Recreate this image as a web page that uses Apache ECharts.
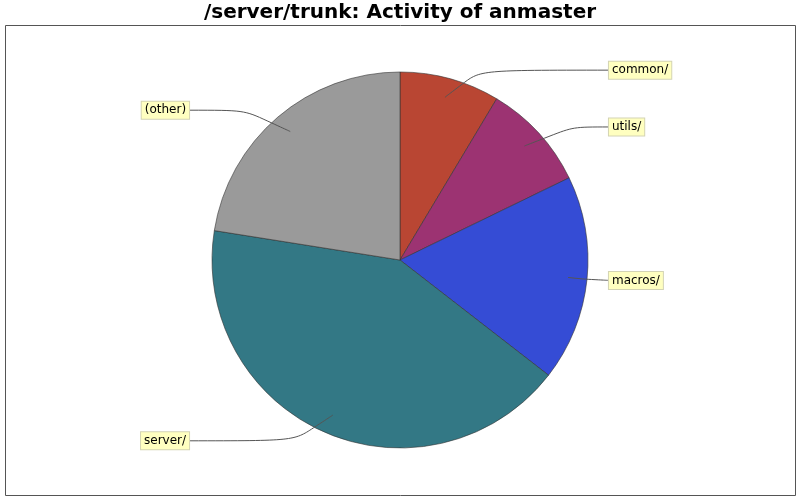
<!DOCTYPE html>
<html>
<head>
<meta charset="utf-8">
<script src="https://cdn.jsdelivr.net/npm/echarts@6/dist/echarts.min.js"></script>
<style>
  html, body { margin: 0; padding: 0; background: #fff; }
  #main { width: 800px; height: 500px; }
</style>
</head>
<body>
<div id="main"></div>
<script>
// slices, clockwise from 12 o'clock (share of activity, %)
var categories = ['common/', 'utils/', 'macros/', 'server/', '(other)'];
var values = [8.6, 9.2, 17.7, 42.0, 22.5];
var colors = ['#b94633', '#9c3372', '#354cd5', '#337885', '#9a9a9a'];

var chart = echarts.init(document.getElementById('main'));

var pieData = [], labelData = [];
for (var i = 0; i < categories.length; i++) {
    pieData.push({ name: categories[i], value: values[i], itemStyle: { color: colors[i] } });
    var item = { name: categories[i], value: values[i] };
    // the left-most label sits further out, like the jfreechart layout
    if (categories[i] == '(other)') item.labelLine = { length2: 83 };
    labelData.push(item);
}

var option = {
    animation: false,
    backgroundColor: '#fff',
    title: {
        text: '/server/trunk: Activity of anmaster',
        left: 'center',
        top: 3,
        padding: 0,
        textStyle: { fontFamily: 'DejaVu Sans', fontWeight: 'bold', fontSize: 20, color: '#000' }
    },
    graphic: [{
        type: 'rect',
        shape: { x: 5.5, y: 25.5, width: 790, height: 470 },
        style: { fill: null, stroke: '#555', lineWidth: 1 },
        silent: true
    }],
    series: [
        {
            // the pie itself
            type: 'pie',
            z: 2,
            center: [400, 260],
            radius: 188,
            startAngle: 90,
            clockwise: true,
            silent: true,
            label: { show: false },
            labelLine: { show: false },
            itemStyle: { borderColor: '#333', borderWidth: 0.6 },
            data: pieData
        },
        {
            // invisible ring at 90% radius, only carries the labels and their links
            type: 'pie',
            z: 5,
            center: [400, 260],
            radius: 169,
            startAngle: 90,
            clockwise: true,
            silent: true,
            itemStyle: { color: 'transparent', borderWidth: 0 },
            label: {
                show: true,
                position: 'outer',
                alignTo: 'labelLine',
                distanceToLabelLine: 0,
                fontFamily: 'DejaVu Sans',
                fontSize: 12,
                color: '#000',
                backgroundColor: '#ffffc0',
                borderColor: '#d4d4b4',
                borderWidth: 1,
                padding: [3, 3, 2, 3]
            },
            labelLine: {
                show: true,
                length: 28,
                length2: 13,
                smooth: 1,
                lineStyle: { color: '#555', width: 1 }
            },
            data: labelData
        }
    ]
};
chart.setOption(option);
</script>
</body>
</html>
